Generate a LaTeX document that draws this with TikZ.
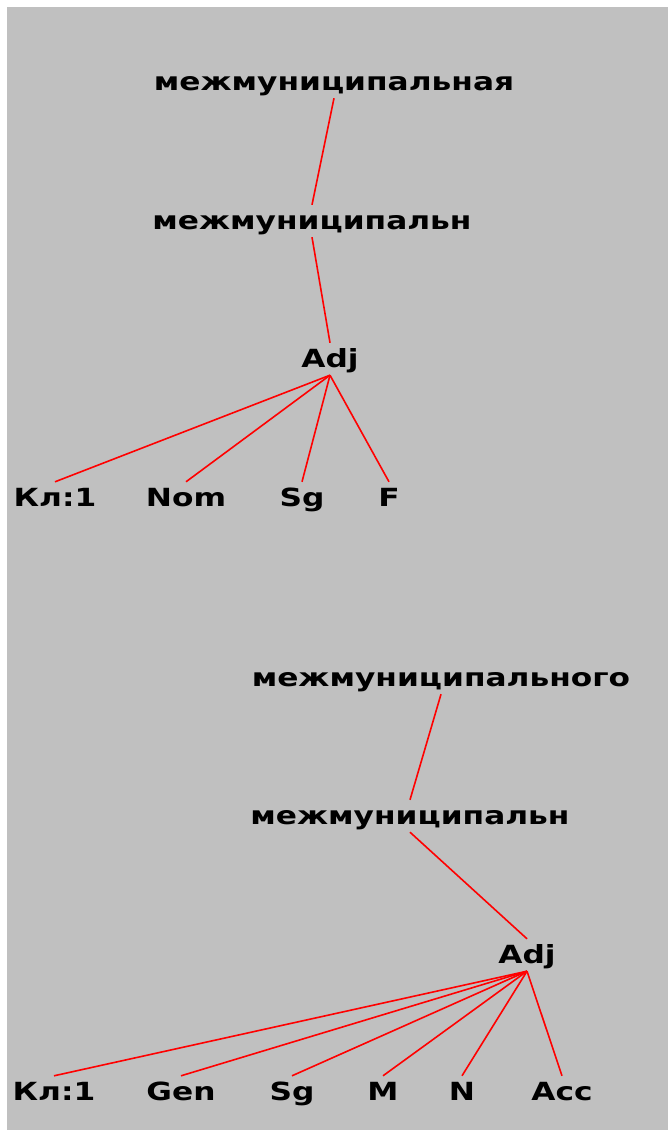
\documentclass[tikz,border=0pt]{standalone}
\usepackage{fontspec}
\newfontfamily\treefont{DejaVu Sans Bold}[FakeStretch=1.25]
\definecolor{panel}{RGB}{192,192,192}
\begin{document}
\begin{tikzpicture}[
  x=1pt, y=-1pt,
  font=\treefont\fontsize{25}{28}\selectfont,
  word/.style={inner sep=3pt, text height=21pt, text depth=5pt, anchor=base},
  link/.style={draw=red, line width=1.6pt}
]
\fill[white] (0,0) rectangle (668,1135);
\fill[panel] (7,7) rectangle (668,1130);
% first parse
\node[word] (form1) at (334,90) {межмуниципальная};
\node[word] (stem1) at (312,229) {межмуниципальн};
\node[word] (adj1) at (330,367) {Adj};
\node[word] (kl1) at (55,506) {Кл:1};
\node[word] (nom1) at (186,506) {Nom};
\node[word] (sg1) at (302,506) {Sg};
\node[word] (f1) at (389,506) {F};
\draw[link] (form1.south) -- (stem1.north);
\draw[link] (stem1.south) -- (adj1.north);
\foreach \t in {kl1,nom1,sg1,f1}
  \draw[link] (adj1.south) -- (\t.north);
% second parse
\node[word] (form2) at (441,686) {межмуниципального};
\node[word] (stem2) at (410,824) {межмуниципальн};
\node[word] (adj2) at (527,963) {Adj};
\node[word] (kl2) at (54,1100) {Кл:1};
\node[word] (gen2) at (181,1100) {Gen};
\node[word] (sg2) at (292,1100) {Sg};
\node[word] (m2) at (383,1100) {M};
\node[word] (n2) at (462,1100) {N};
\node[word] (acc2) at (562,1100) {Acc};
\draw[link] (form2.south) -- (stem2.north);
\draw[link] (stem2.south) -- (adj2.north);
\foreach \t in {kl2,gen2,sg2,m2,n2,acc2}
  \draw[link] (adj2.south) -- (\t.north);
\end{tikzpicture}
\end{document}
